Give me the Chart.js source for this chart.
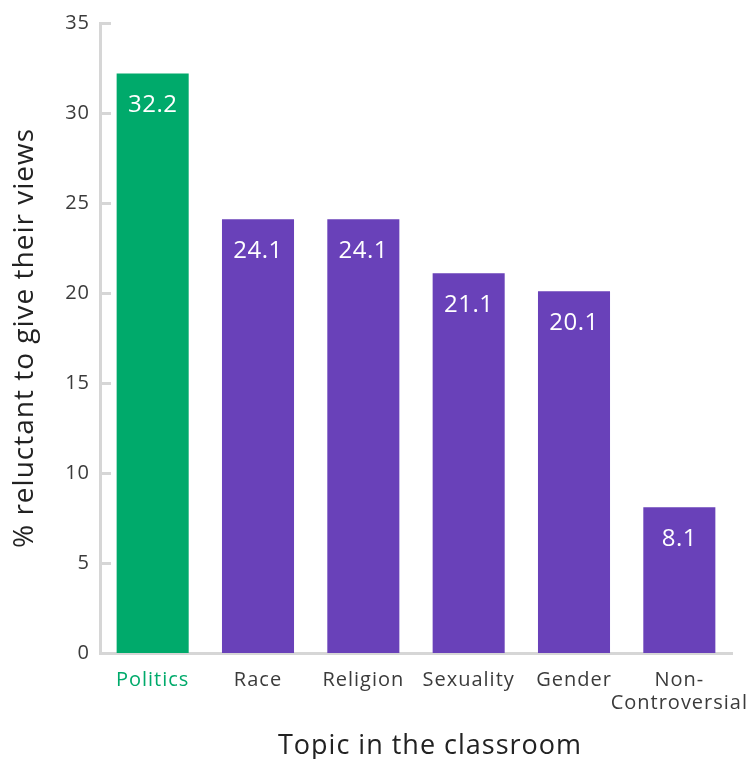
<!DOCTYPE html>
<html>
<head>
<meta charset="utf-8">
<script src="https://cdn.jsdelivr.net/npm/chart.js@4/dist/chart.umd.min.js"></script>
<style>
  html, body { margin: 0; padding: 0; background: #fff; }
  #wrap { width: 755px; height: 759px; }
</style>
</head>
<body>
<div id="wrap"><canvas id="chart" width="755" height="759"></canvas></div>
<script>
const topics = ['Politics', 'Race', 'Religion', 'Sexuality', 'Gender', ['Non-', 'Controversial']];
const reluctant = [32.2, 24.1, 24.1, 21.1, 20.1, 8.1];
const barColors = ['#00aa6b', '#6941b9', '#6941b9', '#6941b9', '#6941b9', '#6941b9'];
const labelColors = ['#00aa6b', '#3b3b3b', '#3b3b3b', '#3b3b3b', '#3b3b3b', '#3b3b3b'];

const FONT = '"Open Sans", "Noto Sans", sans-serif';
const AXIS = '#d6d6d6';

// short tick marks pointing into the plot, plus the value labels inside the bars
const extras = {
  id: 'extras',
  beforeDraw(chart) {
    chart.ctx.letterSpacing = '1px';
  },
  beforeDatasetsDraw(chart) {
    const { ctx, chartArea, scales: { y } } = chart;
    ctx.save();
    ctx.strokeStyle = AXIS;
    ctx.lineWidth = 3;
    y.ticks.forEach(t => {
      const py = Math.round(y.getPixelForValue(t.value)) + 0.5;
      ctx.beginPath();
      ctx.moveTo(chartArea.left, py);
      ctx.lineTo(chartArea.left + 11, py);
      ctx.stroke();
    });
    ctx.restore();
  },
  afterDatasetsDraw(chart) {
    const { ctx } = chart;
    const meta = chart.getDatasetMeta(0);
    ctx.save();
    ctx.letterSpacing = '0.5px';
    ctx.fillStyle = '#ffffff';
    ctx.font = '24px ' + FONT;
    ctx.textAlign = 'center';
    ctx.textBaseline = 'middle';
    meta.data.forEach((bar, i) => {
      ctx.fillText(reluctant[i].toFixed(1), bar.x, bar.y + 32);
    });
    ctx.restore();
  },
  afterDraw(chart) {
    const { ctx, chartArea } = chart;
    ctx.save();
    ctx.fillStyle = '#222222';
    ctx.font = '27px ' + FONT;
    ctx.textAlign = 'center';
    ctx.textBaseline = 'middle';
    ctx.fillText('Topic in the classroom', (chartArea.left + chartArea.right) / 2 + 14, 746);
    ctx.restore();
  }
};

new Chart(document.getElementById('chart'), {
  type: 'bar',
  data: {
    labels: topics,
    datasets: [{
      data: reluctant,
      backgroundColor: barColors,
      barPercentage: 0.684,
      categoryPercentage: 1
    }]
  },
  options: {
    responsive: false,
    animation: false,
    layout: { padding: { top: 23, right: 23, bottom: 0, left: 0 } },
    plugins: {
      legend: { display: false },
      tooltip: { enabled: false }
    },
    scales: {
      x: {
        grid: { display: false, drawTicks: false },
        border: { color: AXIS, width: 3 },
        ticks: {
          padding: 16,
          autoSkip: false,
          maxRotation: 0,
          minRotation: 0,
          color: ctx => labelColors[ctx.index],
          font: { family: FONT, size: 20, lineHeight: 1.15 }
        },
        afterFit(scale) {
          scale.height = 106;
          scale.paddingLeft = 0;
          scale.paddingRight = 0;
        }
      },
      y: {
        min: 0,
        max: 35,
        grid: { display: false, drawTicks: false },
        border: { color: AXIS, width: 3 },
        ticks: {
          stepSize: 5,
          padding: 10,
          color: '#3b3b3b',
          font: { family: FONT, size: 20 }
        },
        title: {
          display: true,
          text: '% reluctant to give their views',
          color: '#222222',
          font: { family: FONT, size: 28 },
          padding: { top: 8, bottom: 0 }
        },
        afterFit(scale) { scale.width = 100; }
      }
    }
  },
  plugins: [extras]
});
</script>
</body>
</html>
